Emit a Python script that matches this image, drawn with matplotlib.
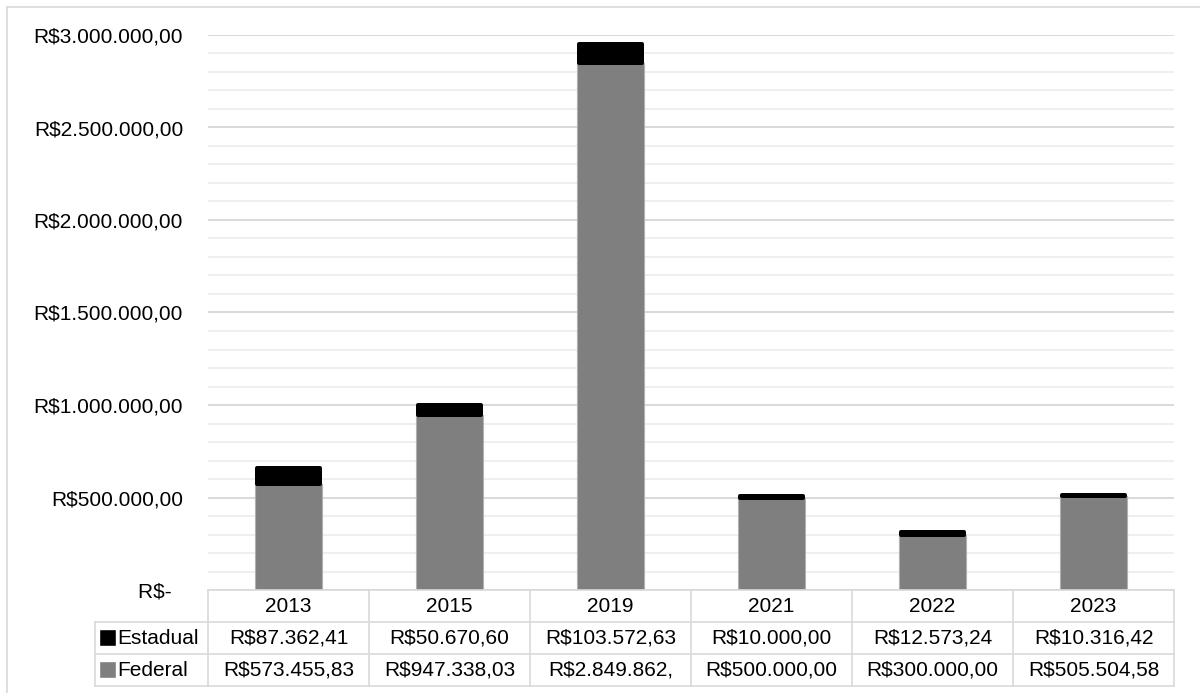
import numpy as np
import matplotlib.pyplot as plt
from matplotlib.lines import Line2D

plt.rcParams['font.family'] = ['Liberation Sans', 'DejaVu Sans']

anos = ['2013', '2015', '2019', '2021', '2022', '2023']
federal = [573455.83, 947338.03, 2849862.00, 500000.00, 300000.00, 505504.58]
estadual = [87362.41, 50670.60, 103572.63, 10000.00, 12573.24, 10316.42]
series = ['Estadual', 'Federal']

yticks = [0, 500000, 1000000, 1500000, 2000000, 2500000, 3000000]
ytick_labels = ['R$-  ', 'R$500.000,00', 'R$1.000.000,00', 'R$1.500.000,00',
                'R$2.000.000,00', 'R$2.500.000,00', 'R$3.000.000,00']

COR_FED = '#7f7f7f'
COR_EST = '#000000'
GRADE = '#d9d9d9'
FS = 15
W, H = 1200, 693


def brl(v):
    # moeda no formato brasileiro; a celula so comporta 12 caracteres
    s = f'{v:,.2f}'.replace(',', '_').replace('.', ',').replace('_', '.')
    return ('R$' + s)[:12]


def fx(px):
    return px / W


def fy(py):
    return (H - py) / H


fig = plt.figure(figsize=(12, 6.93), dpi=100)

# borda da area do grafico
fig.add_artist(Line2D([fx(7), fx(7)], [fy(7), 0], color=GRADE, lw=1.2))
fig.add_artist(Line2D([fx(7), 1], [fy(7), fy(7)], color=GRADE, lw=1.2))

ax = fig.add_axes([fx(208), fy(590), fx(1174) - fx(208), fy(35) - fy(590)])
col_px = (1174 - 208) / len(anos)
x = np.arange(len(anos))
larg = 0.42
ax.bar(x, federal, width=larg, color=COR_FED, edgecolor='#b0b0b0', lw=0.8, zorder=3)
# contorno grosso e arredondado da serie estadual
borda = 4.0
ax.bar(x, estadual, width=larg - borda / col_px, bottom=federal, color=COR_EST,
       edgecolor=COR_EST, lw=borda * 0.72, joinstyle='round', zorder=4)

ax.set_xlim(-0.5, len(anos) - 0.5)
ax.set_ylim(0, 3000000)
ax.set_yticks(yticks, ytick_labels, fontsize=FS)
ax.set_yticks(np.arange(0, 3000001, 100000), minor=True)
ax.set_xticks([])
ax.tick_params(axis='y', which='both', length=0, pad=18)
ax.grid(axis='y', which='major', color=GRADE, lw=1.4, zorder=0)
ax.grid(axis='y', which='minor', color='#efefef', lw=1.4, zorder=0)
ax.set_axisbelow(True)
for s in ax.spines.values():
    s.set_visible(False)

# tabela de dados abaixo do eixo
tab = fig.add_axes([fx(208), fy(686), fx(1174) - fx(208), fy(590) - fy(686)])
tab.set_xlim(-0.5, len(anos) - 0.5)
tab.set_ylim(3, 0)
tab.axis('off')

x_leg = -0.5 - (208 - 95) / col_px
lk = dict(color=GRADE, lw=1.2, clip_on=False)
tab.plot([-0.5, 5.5], [0, 0], **lk)
for r in (1, 2, 3):
    tab.plot([x_leg, 5.5], [r, r], **lk)
for i in range(len(anos) + 1):
    tab.plot([i - 0.5, i - 0.5], [0, 3], **lk)
tab.plot([x_leg, x_leg], [1, 3], **lk)

for i, ano in enumerate(anos):
    tab.text(i, 0.5, ano, ha='center', va='center', fontsize=FS)
    tab.text(i, 1.5, brl(estadual[i]), ha='center', va='center', fontsize=FS)
    tab.text(i, 2.5, brl(federal[i]), ha='center', va='center', fontsize=FS)

x_mark = -0.5 - (208 - 107.5) / col_px
x_txt = -0.5 - (208 - 117.5) / col_px
for r, nome, cor in zip((1.5, 2.5), series, (COR_EST, COR_FED)):
    tab.plot([x_mark], [r], marker='s', ms=9.0, color=cor, mec=cor, mew=2.6,
             solid_joinstyle='round', clip_on=False)
    tab.text(x_txt, r, nome, ha='left', va='center', fontsize=FS, clip_on=False)

fig.savefig('out.png', dpi=100)
